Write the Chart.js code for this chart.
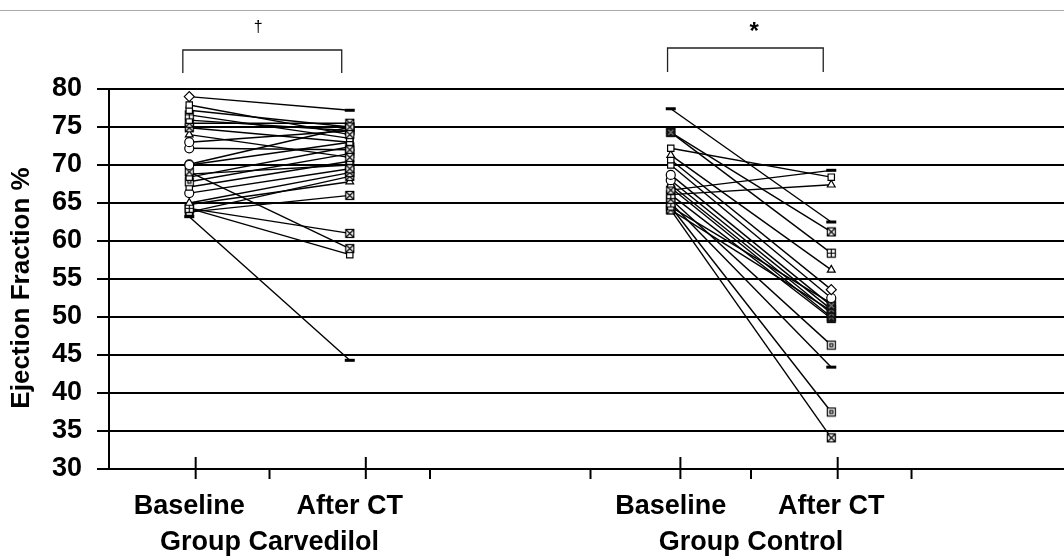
<!DOCTYPE html>
<html>
<head>
<meta charset="utf-8">
<script src="https://cdn.jsdelivr.net/npm/chart.js@4"></script>
<style>
  html, body { margin: 0; padding: 0; background: #fff; }
  #wrap { width: 1064px; height: 559px; position: relative; }
</style>
</head>
<body>
<div id="wrap"><canvas id="efChart" width="1064" height="559"></canvas></div>
<script>
// category positions on the x axis (Baseline / After CT for each group)
const groupNames = ["Group Carvedilol", "Group Control"];
const timeLabels = ["Baseline", "After CT"];
const carvX = [0.5, 1.5];
const ctrlX = [3.5, 4.5];
const groupCenters = [1.0, 4.0];
const majorTicks = [0.54, 1.6, 3.56, 4.54];
const minorTicks = [1, 2, 3, 4, 5];
const yTicks = [30, 35, 40, 45, 50, 55, 60, 65, 70, 75, 80];

// ejection fraction per patient
const carvBase  = [79.0, 77.9, 77.2, 76.6, 75.9, 75.5, 74.9, 74.0, 73.0, 72.2, 70.0, 70.1, 69.1,
                   68.4, 67.8, 67.1, 66.3, 65.0, 64.3, 64.3, 63.8, 63.8, 63.2, 68.8, 64.8];
const carvAfter = [77.2, 74.0, 75.0, 73.5, 74.5, 75.5, 73.0, 71.0, 74.5, 72.0, 73.0, 75.0, 59.0,
                   72.4, 71.5, 70.5, 69.5, 69.0, 61.0, 58.2, 66.0, 68.5, 44.3, 70.0, 67.8];
const ctrlBase  = [77.4, 74.3, 74.3, 72.2, 71.3, 70.7, 70.0, 68.7, 68.0, 67.4, 66.7, 66.1, 67.0,
                   65.5, 65.0, 64.5, 64.1, 64.5, 64.1, 66.1];
const ctrlAfter = [62.5, 61.2, 58.4, 68.4, 56.2, 53.6, 52.5, 51.5, 51.0, 50.5, 69.3, 67.4, 50.0,
                   46.3, 43.4, 37.5, 34.1, 51.8, 50.8, 49.8];

// marker kinds per point
const carvBaseMark  = ["diamond", "sq", "sq", "sqplus", "sq", "sqx", "sqx", "triangle", "circle", "circle",
                       "circle", "circle", "sqx", "sq", "sqdot", "sq", "circle", "triangle", "sqplus", "sqplus",
                       "sq", "sqx", "dash", "sq", "triangle"];
const carvAfterMark = ["dash", "sqx", "sqx", "sq", "sqx", "sqx", "sq", "sqx", "sqx", "sqx",
                       "sq", "sqx", "sqx", "sqx", "sqx", "sq", "sqx", "sqx", "sqx", "sq",
                       "sqx", "sqx", "dash", "sqx", "triangle"];
const ctrlBaseMark  = ["dash", "sqfill", "sqfill", "sq", "triangle", "sq", "sq", "circle", "circle", "triangle",
                       "sqx", "sqplus", "sq", "sqx", "sqplus", "sq", "sqx", "sqplus", "sqx", "sq"];
const ctrlAfterMark = ["dash", "sqx", "sqplus", "sq", "triangle", "diamond", "circle", "sqfill", "sqfill", "sqfill",
                       "dash", "triangle", "sqfill", "sqdot", "dash", "sqdot", "sqx", "sqfill", "sqfill", "sqfill"];

const FONT = "'Liberation Sans', Arial, Helvetica, sans-serif";

function makeBox(draw) {
  const c = document.createElement("canvas");
  c.width = 11; c.height = 11;
  const g = c.getContext("2d");
  g.fillStyle = "#fff";
  g.fillRect(1, 1, 9, 9);
  g.strokeStyle = "#000";
  g.lineWidth = 1.2;
  g.strokeRect(1.5, 1.5, 8, 8);
  draw(g);
  return c;
}

const boxes = {
  sqx: makeBox(g => { g.beginPath(); g.moveTo(2, 2); g.lineTo(9, 9); g.moveTo(9, 2); g.lineTo(2, 9); g.stroke(); }),
  sqplus: makeBox(g => { g.beginPath(); g.moveTo(5.5, 2); g.lineTo(5.5, 9); g.moveTo(2, 5.5); g.lineTo(9, 5.5); g.stroke(); }),
  sqdot: makeBox(g => { g.strokeRect(4, 4, 3, 3); }),
  sqfill: makeBox(g => { g.fillStyle = "#111"; g.fillRect(1, 1, 9, 9); g.strokeStyle = "#777"; g.beginPath(); g.moveTo(3, 3); g.lineTo(8, 8); g.moveTo(8, 3); g.lineTo(3, 8); g.stroke(); })
};

function pointStyleOf(kind) {
  if (kind === "diamond") return "rectRot";
  if (kind === "circle") return "circle";
  if (kind === "triangle") return "triangle";
  if (kind === "dash") return "line";
  if (kind === "sq") return "rect";
  return boxes[kind];
}

function buildSets(base, after, xs, baseMark, afterMark) {
  return base.map((b, i) => {
    const marks = [baseMark[i], afterMark[i]];
    return {
      data: [{ x: xs[0], y: b }, { x: xs[1], y: after[i] }],
      showLine: true,
      borderColor: "#000",
      borderWidth: 1.4,
      pointStyle: marks.map(pointStyleOf),
      pointRadius: marks.map(m => (m === "dash" ? 5 : m === "diamond" ? 5 : 4.5)),
      pointBorderWidth: marks.map(m => (m === "dash" ? 3 : 1.2)),
      pointBorderColor: "#000",
      pointBackgroundColor: "#fff"
    };
  });
}

const decor = {
  id: "decor",
  afterDraw(chart) {
    const ctx = chart.ctx;
    const x = chart.scales.x;
    const area = chart.chartArea;
    const px = v => x.getPixelForValue(v);
    ctx.save();

    // thin grey rule at the very top
    ctx.strokeStyle = "#aaa";
    ctx.lineWidth = 1;
    ctx.beginPath(); ctx.moveTo(0, 10.5); ctx.lineTo(1064, 10.5); ctx.stroke();

    // significance brackets
    ctx.strokeStyle = "#222";
    ctx.lineWidth = 1.3;
    [[0.46, 1.45, 50, 73], [3.48, 4.45, 48, 72]].forEach(b => {
      ctx.beginPath();
      ctx.moveTo(px(b[0]), b[3]); ctx.lineTo(px(b[0]), b[2]);
      ctx.lineTo(px(b[1]), b[2]); ctx.lineTo(px(b[1]), b[3]);
      ctx.stroke();
    });
    ctx.fillStyle = "#000";
    ctx.textAlign = "center";
    ctx.textBaseline = "middle";
    ctx.font = "16px " + FONT;
    ctx.fillText("\u2020", px(0.93), 28);
    ctx.font = "bold 24px " + FONT;
    ctx.fillText("*", px(4.02), 32);

    // x axis ticks
    ctx.strokeStyle = "#000";
    ctx.lineWidth = 2;
    majorTicks.forEach(v => {
      ctx.beginPath(); ctx.moveTo(px(v), area.bottom - 12); ctx.lineTo(px(v), area.bottom + 10); ctx.stroke();
    });
    minorTicks.forEach(v => {
      ctx.beginPath(); ctx.moveTo(px(v), area.bottom); ctx.lineTo(px(v), area.bottom + 10); ctx.stroke();
    });

    // category and group labels
    ctx.font = "bold 27px " + FONT;
    [carvX, ctrlX].forEach(xs => {
      xs.forEach((v, i) => ctx.fillText(timeLabels[i], px(v), 507));
    });
    groupNames.forEach((name, i) => ctx.fillText(name, px(groupCenters[i]), 543));

    // y axis title
    ctx.translate(22, 288);
    ctx.rotate(-Math.PI / 2);
    ctx.font = "bold 26px " + FONT;
    ctx.fillText("Ejection Fraction %", 0, 0);
    ctx.restore();
  }
};

new Chart("efChart", {
  type: "scatter",
  data: {
    datasets: [
      ...buildSets(carvBase, carvAfter, carvX, carvBaseMark, carvAfterMark),
      ...buildSets(ctrlBase, ctrlAfter, ctrlX, ctrlBaseMark, ctrlAfterMark)
    ]
  },
  options: {
    responsive: false,
    animation: false,
    layout: { autoPadding: false, padding: { top: 89, bottom: 90, left: 0, right: 0 } },
    plugins: { legend: { display: false }, tooltip: { enabled: false } },
    scales: {
      x: { type: "linear", display: false, min: 0, max: 5.95 },
      y: {
        min: 30,
        max: 80,
        afterFit: s => { s.width = 109; },
        afterBuildTicks: s => { s.ticks = yTicks.map(v => ({ value: v })); },
        grid: { color: "#000", lineWidth: 2, tickLength: 12 },
        border: { color: "#000", width: 2 },
        ticks: {
          padding: 15,
          color: "#000",
          font: { family: FONT, size: 27, weight: "bold" }
        }
      }
    }
  },
  plugins: [decor]
});
</script>
</body>
</html>
